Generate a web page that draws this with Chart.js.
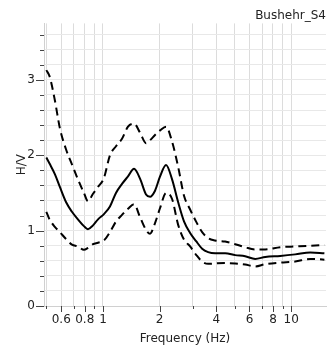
<!DOCTYPE html>
<html>
<head>
<meta charset="utf-8">
<title>Bushehr_S4 H/V</title>
<script src="https://cdn.jsdelivr.net/npm/chart.js@4/dist/chart.umd.min.js"></script>
<style>
	html, body { margin: 0; padding: 0; background: #fff; }
	canvas { display: block; }
</style>
</head>
<body>
<canvas id="hv-chart" width="336" height="356"></canvas>
<script>
// H/V ratio vs frequency
const freq = [0.50, 0.52, 0.555, 0.59, 0.636, 0.684, 0.736, 0.792, 0.832, 0.885, 0.941, 1.012, 1.089, 1.172, 1.262, 1.358, 1.462, 1.573, 1.693, 1.778, 1.890, 2.010, 2.163, 2.328, 2.506, 2.697, 2.903, 3.124, 3.363, 3.619, 3.942, 4.457, 5.037, 5.692, 6.435, 7.273, 8.740, 10.50, 12.62, 15.0];
const hvMean = [1.97, 1.89, 1.75, 1.58, 1.38, 1.25, 1.15, 1.06, 1.02, 1.07, 1.15, 1.22, 1.32, 1.50, 1.62, 1.72, 1.82, 1.69, 1.48, 1.45, 1.53, 1.72, 1.87, 1.68, 1.38, 1.12, 0.97, 0.86, 0.76, 0.715, 0.70, 0.70, 0.675, 0.66, 0.625, 0.65, 0.665, 0.685, 0.71, 0.70];
const hvUpper = [3.13, 3.05, 2.73, 2.36, 2.08, 1.88, 1.68, 1.50, 1.39, 1.49, 1.58, 1.70, 2.00, 2.12, 2.22, 2.38, 2.42, 2.30, 2.16, 2.20, 2.27, 2.33, 2.38, 2.18, 1.85, 1.46, 1.28, 1.12, 0.98, 0.90, 0.87, 0.855, 0.82, 0.78, 0.75, 0.75, 0.78, 0.79, 0.80, 0.81];
const hvLower = [1.25, 1.15, 1.05, 0.98, 0.89, 0.815, 0.79, 0.745, 0.77, 0.82, 0.84, 0.87, 0.98, 1.12, 1.21, 1.29, 1.35, 1.18, 1.01, 0.96, 1.10, 1.30, 1.50, 1.42, 1.08, 0.88, 0.79, 0.68, 0.59, 0.56, 0.565, 0.57, 0.565, 0.55, 0.525, 0.555, 0.575, 0.59, 0.625, 0.615];

// axis ticks
const xTicks = [0.5, 0.6, 0.7, 0.8, 0.9, 1, 2, 3, 4, 5, 6, 7, 8, 9, 10];
const xLabels = [0.6, 0.8, 1, 2, 4, 6, 8, 10];
const yTicks = [0, 0.2, 0.4, 0.6, 0.8, 1, 1.2, 1.4, 1.6, 1.8, 2, 2.2, 2.4, 2.6, 2.8, 3, 3.2, 3.4, 3.6];
const yLabels = [0, 1, 2, 3];

Chart.defaults.font.family = "'DejaVu Sans', sans-serif";
Chart.defaults.font.size = 12;
Chart.defaults.color = '#222';

function toPoints( values ) {
	return freq.map( function ( f, i ) {
		return { x: f, y: values[i] };
	} );
}

// short outer tick marks, longer where a label sits
const tickMarks = {
	id: 'tickMarks',
	afterDraw: function ( chart ) {
		const ctx = chart.ctx;
		const area = chart.chartArea;
		const xs = chart.scales.x;
		const ys = chart.scales.y;

		ctx.save();
		ctx.strokeStyle = '#444';
		ctx.lineWidth = 1;
		ctx.beginPath();

		xTicks.forEach( function ( v ) {
			const px = Math.round( xs.getPixelForValue( v ) ) + 0.5;
			const len = xLabels.indexOf( v ) > -1 ? 6 : 3;
			ctx.moveTo( px, area.bottom );
			ctx.lineTo( px, area.bottom + len );
		} );

		yTicks.forEach( function ( v ) {
			const py = Math.round( ys.getPixelForValue( v ) ) + 0.5;
			const len = yLabels.indexOf( v ) > -1 ? 8 : 4;
			ctx.moveTo( area.left, py );
			ctx.lineTo( area.left - len, py );
		} );

		ctx.stroke();
		ctx.restore();
	}
};

const dashed = [8, 5];

new Chart( document.getElementById( 'hv-chart' ).getContext( '2d' ), {
	type: 'line',
	data: {
		datasets: [
			{
				label: 'H/V',
				data: toPoints( hvMean ),
				borderColor: '#000',
				borderWidth: 2,
				pointRadius: 0,
				cubicInterpolationMode: 'monotone'
			},
			{
				label: 'H/V + std',
				data: toPoints( hvUpper ),
				borderColor: '#000',
				borderWidth: 2,
				borderDash: dashed,
				pointRadius: 0,
				cubicInterpolationMode: 'monotone'
			},
			{
				label: 'H/V - std',
				data: toPoints( hvLower ),
				borderColor: '#000',
				borderWidth: 2,
				borderDash: dashed,
				pointRadius: 0,
				cubicInterpolationMode: 'monotone'
			}
		]
	},
	options: {
		responsive: false,
		animation: false,
		layout: {
			padding: { left: 0, right: 10, top: 0, bottom: 0 }
		},
		plugins: {
			legend: { display: false },
			tooltip: { enabled: false },
			title: {
				display: true,
				text: 'Bushehr_S4',
				align: 'end',
				font: { size: 12, weight: 'normal' },
				color: '#222',
				padding: { top: 9, bottom: 0 }
			}
		},
		scales: {
			x: {
				type: 'logarithmic',
				min: 0.486,
				max: 15.3,
				afterBuildTicks: function ( scale ) {
					scale.ticks = xTicks.map( function ( v ) {
						return { value: v };
					} );
				},
				afterFit: function ( scale ) {
					scale.height = 50;
				},
				ticks: {
					autoSkip: false,
					maxRotation: 0,
					padding: 7,
					color: '#222',
					callback: function ( value ) {
						return xLabels.indexOf( value ) > -1 ? String( value ) : '';
					}
				},
				grid: {
					color: '#dcdcdc',
					drawTicks: false
				},
				border: { color: '#d0d0d0' },
				title: {
					display: true,
					text: 'Frequency (Hz)',
					color: '#222',
					font: { size: 12 },
					padding: { top: 0, bottom: 10 }
				}
			},
			y: {
				type: 'linear',
				min: 0,
				max: 3.75,
				afterBuildTicks: function ( scale ) {
					scale.ticks = yTicks.map( function ( v ) {
						return { value: v };
					} );
				},
				afterFit: function ( scale ) {
					scale.width = 44;
				},
				ticks: {
					autoSkip: false,
					padding: 9,
					color: '#222',
					callback: function ( value ) {
						return yLabels.indexOf( value ) > -1 ? String( value ) : '';
					}
				},
				grid: {
					color: '#e8e8e8',
					drawTicks: false
				},
				border: { color: '#d0d0d0' },
				title: {
					display: true,
					text: 'H/V',
					color: '#222',
					font: { size: 12 },
					padding: { top: 15, bottom: 0 }
				}
			}
		}
	},
	plugins: [tickMarks]
} );
</script>
</body>
</html>
